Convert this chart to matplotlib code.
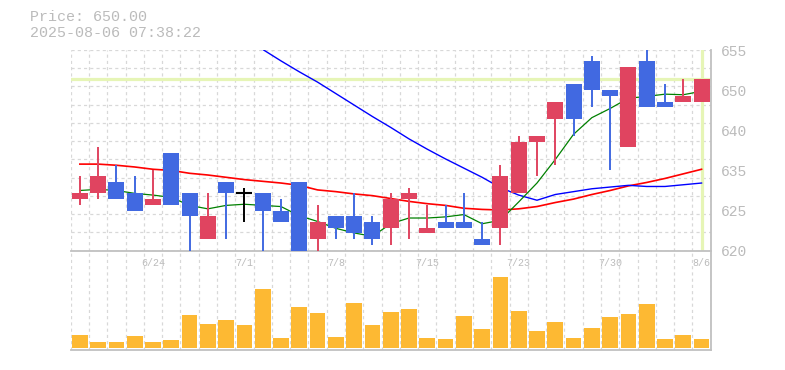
import matplotlib
matplotlib.use("Agg")
import matplotlib.pyplot as plt
import numpy as np

# daily candles, 2025-06-18 .. 2025-08-06
dates = ['6/18', '6/19', '6/20', '6/23', '6/24', '6/25', '6/26', '6/27', '6/30',
         '7/1', '7/2', '7/3', '7/4', '7/7', '7/8', '7/9', '7/10', '7/11',
         '7/14', '7/15', '7/16', '7/17', '7/18', '7/22', '7/23', '7/24', '7/25',
         '7/28', '7/29', '7/30', '7/31', '8/1', '8/4', '8/5', '8/6']
opens = [629, 630, 632, 630, 628, 637, 630, 622, 632, 630, 630, 627, 632, 622, 626, 626, 625, 624,
         629, 623, 625, 625, 622, 624, 630, 639, 643, 649, 653, 648, 638, 653, 646, 646, 646]
highs = [633, 638, 635, 633, 634, 637, 630, 630, 632, 631, 630, 629, 632, 628, 626, 630, 626, 630,
         631, 628, 628, 630, 625, 635, 640, 640, 646, 649, 654, 648, 652, 656, 649, 650, 650]
lows = [628, 629, 629, 627, 628, 628, 619, 622, 622, 625, 619, 625, 617, 619, 622, 622, 621, 621,
        622, 623, 624, 624, 621, 621, 630, 633, 635, 640, 645, 634, 638, 645, 645, 646, 646]
closes = [630, 633, 629, 627, 629, 628, 626, 626, 630, 630, 627, 625, 618, 625, 624, 623, 622, 629,
          630, 624, 624, 624, 621, 633, 639, 640, 646, 643, 648, 647, 652, 645, 645, 647, 650]
volume = [13, 6, 6, 12, 6, 8, 33, 24, 28, 23, 59, 10, 41, 35, 11, 45, 23, 36,
          39, 10, 9, 32, 19, 71, 37, 17, 26, 10, 20, 31, 34, 44, 9, 13, 9]

# moving averages (5 / 25 / 75 day)
ma5 = [630.5, 630.7, 630.5, 630.0, 629.7, 629.3, 627.9, 627.3, 627.9, 628.1, 627.9, 627.7,
       626.1, 625.1, 623.9, 623.1, 622.5, 624.7, 625.7, 625.7, 625.9, 626.3, 624.7, 625.3,
       628.5, 631.8, 635.9, 640.3, 643.2, 644.8, 646.6, 646.9, 647.3, 647.2, 647.8]
ma25 = [635.1, 635.1, 634.9, 634.6, 634.2, 634.0, 633.5, 633.2, 632.8, 632.4, 632.1, 631.8,
        631.4, 630.6, 630.3, 629.9, 629.6, 629.1, 628.6, 628.2, 627.9, 627.4, 627.2, 627.1,
        627.3, 627.7, 628.4, 629.0, 629.8, 630.5, 631.3, 631.9, 632.6, 633.4, 634.2]
ma75 = [None] * 9 + [656.9, 655.1, 653.1, 651.2, 649.4, 647.4, 645.4, 643.4, 641.5, 639.5,
                     637.7, 636.0, 634.4, 632.8, 631.0, 629.7, 628.8, 629.8, 630.3, 630.8,
                     631.1, 631.4, 631.2, 631.2, 631.5, 631.8]

price_ticks = [620, 627, 634, 641, 648, 655]
price_labels = ['620', '625', '635', '640', '650', '655']

UP = '#e04460'
DOWN = '#4169e1'
GRID = '#d8d8d8'
TEXT = '#bbbbbb'
SPINE = '#c0c0c0'
MONO = 'Liberation Mono'

n = np.arange(len(dates))
o = np.array(opens, float)
c = np.array(closes, float)
colors = [UP if cc > oo else DOWN if cc < oo else 'black' for oo, cc in zip(o, c)]

fig = plt.figure(figsize=(7.85, 3.7), dpi=100)
ax = fig.add_axes([70.7 / 785, 1 - 250.7 / 370, 640 / 785, 200.7 / 370])
axv = fig.add_axes([70.7 / 785, 1 - 350.3 / 370, 640 / 785, 99.6 / 370])

for a in (ax, axv):
    a.set_xlim(-0.5, len(dates) - 0.5)
    a.set_facecolor('none')
    for x in np.arange(-0.5, len(dates), 1):
        a.axvline(x, color=GRID, lw=0.9, ls=(0, (2.5, 2.5)), zorder=0)
    a.spines['left'].set_visible(False)
    a.spines['top'].set_visible(False)
    for s in ('bottom', 'right'):
        a.spines[s].set_color(SPINE)
        a.spines[s].set_linewidth(1.3)

# price pane
ax.set_ylim(620, 655)
for y in np.linspace(620, 655, 12):
    ax.axhline(y, color=GRID, lw=0.9, ls=(0, (2.5, 2.5)), zorder=0)
ax.axhline(closes[-1], color='#e6f5b6', lw=2.3, zorder=1)
ax.axvline(n[-1], color='#e6f5b6', lw=2.3, zorder=1)

ax.plot(n, ma25, color='red', lw=1.2, zorder=2)
ax.plot(n, np.array(ma75, dtype=float), color='blue', lw=1.0, zorder=2)
ax.plot(n, ma5, color='green', lw=0.9, zorder=2)

ax.vlines(n, lows, highs, colors=colors, lw=1.4, zorder=3)
body_lo = np.minimum(o, c)
body_h = np.abs(c - o)
ax.bar(n, body_h, bottom=body_lo, width=0.875, color=colors, zorder=4)
doji = body_h == 0
ax.hlines(o[doji], n[doji] - 0.4375, n[doji] + 0.4375, colors='black', lw=1.5, zorder=4)

ax.yaxis.tick_right()
ax.set_yticks(price_ticks)
ax.set_yticklabels(price_labels, fontfamily=MONO, fontsize=10.5, color=TEXT)
ax.tick_params(axis='y', length=0, pad=7)
ticks = n[4::5]
ax.set_xticks(ticks)
ax.set_xticklabels([dates[i] for i in ticks], fontfamily=MONO, fontsize=7.2, color=TEXT)
ax.tick_params(axis='x', length=0, pad=5)

# volume pane
vmax = max(volume)
axv.set_ylim(-2.3 / 71 * vmax, 97.3 / 71 * vmax)
axv.bar(n, volume, width=0.86, color='#fdb933', zorder=2)
axv.set_xticks([])
axv.set_yticks([])

fig.text(30 / 785, 1 - 17 / 370, 'Price: 650.00', fontfamily=MONO, fontsize=10.8,
         color=TEXT, va='center')
fig.text(30 / 785, 1 - 33 / 370, '2025-08-06 07:38:22', fontfamily=MONO, fontsize=10.8,
         color=TEXT, va='center')

fig.savefig('out.png', dpi=100)
